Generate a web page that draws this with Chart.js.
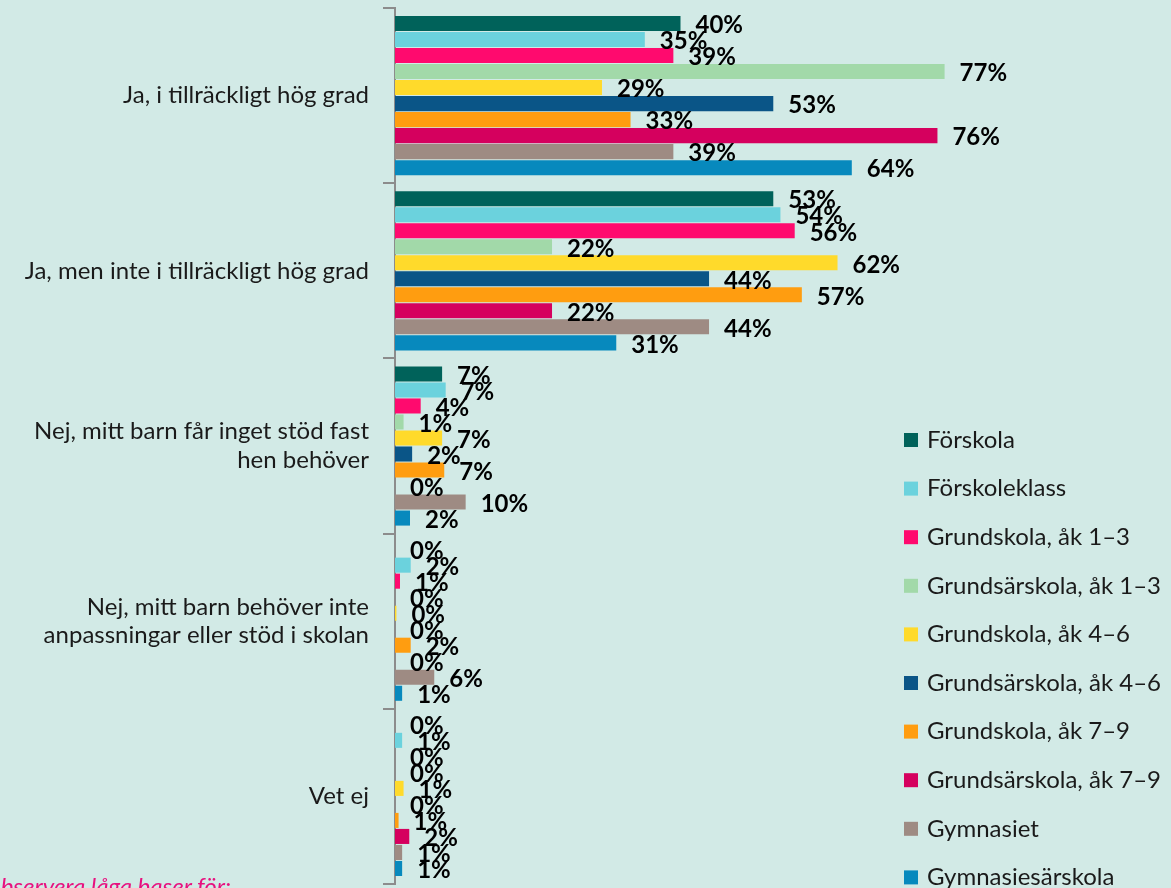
<!DOCTYPE html>
<html lang="sv">
<head>
    <meta charset="UTF-8">
    <title>Stöd i skolan</title>
    <style>
        body { margin: 0; background: #d2eae6; overflow: hidden; }
        .wrap { position: relative; width: 1171px; height: 888px; }
        .note {
            position: absolute; left: -17px; top: 871px;
            font: italic 24px Lato, sans-serif; color: #e8117f; white-space: nowrap;
        }
    </style>
</head>
<body>
<div class="wrap">
    <canvas id="chart" width="1171" height="888"></canvas>
    <div class="note">Observera låga baser för:</div>
</div>
<script src="https://cdn.jsdelivr.net/npm/chart.js"></script>
<script>
const categories = [
    'Ja, i tillräckligt hög grad',
    'Ja, men inte i tillräckligt hög grad',
    ['Nej, mitt barn får inget stöd fast', 'hen behöver'],
    ['Nej, mitt barn behöver inte', 'anpassningar eller stöd i skolan'],
    'Vet ej'
];
const seriesNames = [
    'Förskola', 'Förskoleklass', 'Grundskola, åk 1–3', 'Grundsärskola, åk 1–3',
    'Grundskola, åk 4–6', 'Grundsärskola, åk 4–6', 'Grundskola, åk 7–9',
    'Grundsärskola, åk 7–9', 'Gymnasiet', 'Gymnasiesärskola'
];
const seriesColors = [
    '#00625a', '#6bd2dd', '#ff0a6e', '#a2d9a9', '#ffda2b',
    '#0a5587', '#ff9d10', '#d5005e', '#9e8b83', '#0789bd'
];
// one array per school form, values per category (percent)
const forskola        = [40, 53, 6.6, 0, 0];
const forskoleklass   = [35, 54, 7.1, 2.2, 1.0];
const grundskola13    = [39, 56, 3.6, 0.7, 0];
const grundsar13      = [77, 22, 1.2, 0, 0];
const grundskola46    = [29, 62, 6.6, 0.2, 1.2];
const grundsar46      = [53, 44, 2.4, 0, 0];
const grundskola79    = [33, 57, 6.9, 2.2, 0.5];
const grundsar79      = [76, 22, 0, 0, 2.0];
const gymnasiet       = [39, 44, 9.9, 5.5, 1.0];
const gymnasiesar     = [64, 31, 2.1, 1.0, 1.0];
const seriesValues = [forskola, forskoleklass, grundskola13, grundsar13, grundskola46,
    grundsar46, grundskola79, grundsar79, gymnasiet, gymnasiesar];

const valueLabels = {
    id: 'valueLabels',
    afterDatasetsDraw(chart) {
        const ctx = chart.ctx;
        ctx.save();
        ctx.font = 'bold 24px Lato, sans-serif';
        ctx.fillStyle = '#000';
        ctx.textAlign = 'left';
        ctx.textBaseline = 'middle';
        chart.data.datasets.forEach((ds, i) => {
            chart.getDatasetMeta(i).data.forEach((bar, j) => {
                ctx.fillText(Math.round(ds.data[j]) + '%', bar.x + 15, bar.y + 2);
            });
        });
        ctx.restore();
    }
};

const sideLegend = {
    id: 'sideLegend',
    afterDraw(chart) {
        const ctx = chart.ctx;
        ctx.save();
        ctx.font = '24px Lato, sans-serif';
        ctx.textBaseline = 'middle';
        chart.data.datasets.forEach((ds, i) => {
            const y = 440 + i * 48.6;
            ctx.fillStyle = ds.backgroundColor;
            ctx.fillRect(904, y - 7, 14, 14);
            ctx.fillStyle = '#1a1a1a';
            ctx.fillText(ds.label, 927, y);
        });
        ctx.restore();
    }
};

new Chart(document.getElementById('chart'), {
    type: 'bar',
    data: {
        labels: categories,
        datasets: seriesNames.map((name, i) => ({
            label: name,
            data: seriesValues[i],
            backgroundColor: seriesColors[i],
            categoryPercentage: 0.914,
            barPercentage: 0.94
        }))
    },
    options: {
        indexAxis: 'y',
        responsive: false,
        animation: false,
        layout: { padding: { top: 8, bottom: 4, left: 0, right: 205 } },
        plugins: { legend: { display: false }, tooltip: { enabled: false } },
        scales: {
            x: { display: false, min: 0, max: 80 },
            y: {
                afterFit(scale) {
                    scale.width = 395;
                    scale.paddingTop = 0;
                    scale.paddingBottom = 0;
                },
                grid: { offset: true, drawOnChartArea: false, tickLength: 12, color: '#8c8c8c', lineWidth: 2 },
                border: { display: true, color: '#8c8c8c', width: 2 },
                ticks: { color: '#1a1a1a', font: { family: 'Lato', size: 24 }, padding: 14, lineHeight: 1.25 }
            }
        }
    },
    plugins: [valueLabels, sideLegend]
});
</script>
</body>
</html>
